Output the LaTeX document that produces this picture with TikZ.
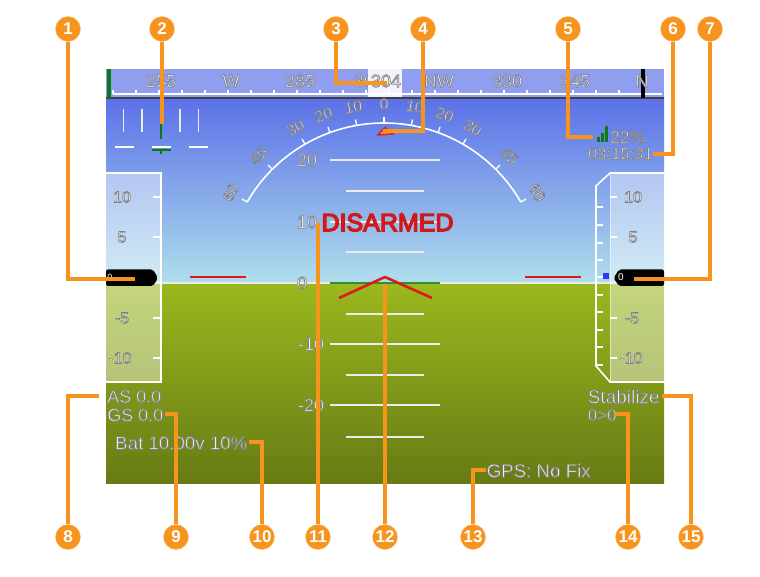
\documentclass[tikz,border=0pt]{standalone}
\usepackage{fontspec}
\setmainfont{Liberation Sans}
\definecolor{callout}{HTML}{F7941E}
\definecolor{skytop}{HTML}{5A70E8}
\definecolor{skybot}{HTML}{B0DEEC}
\definecolor{gndtop}{HTML}{9AB81E}
\definecolor{gndbot}{HTML}{677B14}
\definecolor{hudred}{HTML}{E01A18}
\definecolor{hudgreen}{HTML}{0B7A12}
\newcommand{\hudo}[1]{\special{pdf:code 2 Tr 0.7 w 0.5 0.5 0.5 RG}#1\special{pdf:code 0 Tr}}
\newcommand{\hudr}[1]{\special{pdf:code 2 Tr 1.3 w 0.8 0.1 0.1 RG}#1\special{pdf:code 0 Tr}}
\tikzset{
  x=1pt,y=-1pt,
  hudlab/.style={inner sep=0pt,text=white,font=\fontsize{#1}{#1}\selectfont},
  hudlab/.default=17,
  hudline/.style={draw=white,line width=1.6pt},
  minor/.style={draw=white!92!black,line width=1.6pt},
  badge/.style={circle,fill=callout,draw=callout!60!white,line width=0.4pt,minimum size=25pt,inner sep=0pt,text=white,font=\fontsize{17}{17}\selectfont\bfseries},
  leader/.style={draw=callout,line width=3.6pt,line join=miter},
}
\begin{document}
\begin{tikzpicture}
\useasboundingbox (0,0) rectangle (760,577);
\fill[white] (0,0) rectangle (760,577);
% sky and ground
\shade[top color=skytop,bottom color=skybot] (106,97) rectangle (664,283);
\shade[top color=gndtop,bottom color=gndbot] (106,283) rectangle (664,483);
% compass strip
\fill[color=skytop!68!white] (106,69) rectangle (664,97);
\draw[line width=1.6pt,draw=black!75] (106,98) -- (664,98);
\foreach \i in {0,...,23} \draw[white,line width=1.1pt] ({113+23*\i},90) -- ({113+23*\i},94);
\draw[white,line width=1.4pt] (113,94) -- (662,94);
\fill[hudgreen] (107,69) rectangle (111,98);
\fill[black] (641,69) rectangle (645,98);
\foreach \x/\t/\n in {161/255/a,231/W/b,300/285/c,369/300/d,439/NW/e,507/330/f,575/345/g,642/N/h}
  \node[hudlab=18] (comp\n) at (\x,81) {\hudo{\t}};
\fill[white,opacity=.88] (368,69) rectangle (402,97);
\node[hudlab=18] (compval) at (386,81) {\hudo{304}};
% bank scale
\foreach \x in {123.5,142,180,198.5} \draw[minor] (\x,109) -- (\x,132);
\foreach \x in {115,152,189} \draw[white,line width=2pt] (\x,147) -- (\x+19,147);
\draw[white,line width=2.6pt] (161,109) -- (161,139);
\draw[hudgreen,line width=1.3pt] (161,109) -- (161,139);
\draw[hudgreen,line width=2pt] (152,150) -- (171,150);
\draw[hudgreen,line width=2pt] (161,150) -- (161,154.5);
% roll arc
\draw[white,line width=1.6pt] plot[domain=-60:60,samples=81] ({384+158*sin(\x)},{281-158*cos(\x)});
\foreach \a in {-60,-45,-30,-20,-10,0,10,20,30,45,60}
  \draw[white,line width=1.3pt] ({384+158*sin(\a)},{281-158*cos(\a)}) -- ({384+164*sin(\a)},{281-164*cos(\a)});
\foreach \a/\t/\n in {-60/60/a,-45/45/b,-30/30/c,-20/20/d,-10/10/e,0/0/f,10/10/g,20/20/h,30/30/i,45/45/j,60/60/k}
  \node[hudlab=16,rotate=-\a] (roll\n) at ({384+177*sin(\a)},{281-177*cos(\a)}) {\hudo{\t}};
\draw[hudred,line width=1.3pt,fill=callout] (378,135) -- (385,127.5) -- (393,134) -- cycle;
% horizon
\draw[white!92!black,line width=1.5pt] (106,283) -- (664,283);
% pitch ladder
\foreach \y in {160,222,344,405} \draw[minor] (330,\y) -- (440,\y);
\foreach \y in {191,252,314,375,437} \draw[minor] (346,\y) -- (424,\y);
\draw[hudgreen!85!white,line width=1.5pt] (330,283) -- (440,283);
\foreach \x/\y/\t/\n in {307/160/20/a,307/222/10/b,302/283/0/c,311/344/-10/d,311/405/-20/e}
  \node[hudlab=18] (pitch\n) at (\x,\y) {\hudo{\t}};
% speed tape
\fill[white,opacity=.42] (106,173) rectangle (161,382);
\draw[hudline] (106,173) -- (161,173) -- (161,382) -- (106,382);
\foreach \y in {197,237,318,358} \draw[hudline] (153,\y) -- (161,\y);
\foreach \x/\y/\t/\n in {122/197/10/a,122/237/5/b,122/318/-5/c,120/358/-10/d}
  \node[hudlab=16] (spd\n) at (\x,\y) {\hudo{\t}};
\fill[black,rounded corners=2pt] (106,269.5) -- (153,269.5) -- (158,278) -- (153,286) -- (106,286) -- cycle;
\node[hudlab=9] (spdval) at (110,277.5) {0};
% altitude tape
\fill[white,opacity=.42] (610,173) rectangle (664,382);
\draw[hudline] (664,173) -- (610,173) -- (596,186) -- (596,366) -- (610,382) -- (664,382);
\draw[white,opacity=.5,line width=.6pt] (610,173) -- (610,382);
\draw[white,opacity=.7,line width=.6pt] (664,173) -- (664,382);
\foreach \y in {197,237,318,358} \draw[hudline] (610,\y) -- (617,\y);
\foreach \y in {207,225,243,260,277,295,312,330,347,365} \draw[hudline] (596,\y) -- (603,\y);
\fill[blue!80!white] (603,273) rectangle (609,279);
\foreach \x/\y/\t/\n in {633/197/10/a,633/237/5/b,632/318/-5/c,631/358/-10/d}
  \node[hudlab=16] (alt\n) at (\x,\y) {\hudo{\t}};
\fill[black,rounded corners=2pt] (664,269.5) -- (619,269.5) -- (613.5,278) -- (619,286) -- (664,286) -- cycle;
\node[hudlab=10] (altval) at (621,277.5) {0};
% flight director
\draw[hudred,line width=2.4pt] (190,277) -- (246,277);
\draw[hudred,line width=2.4pt] (525,277) -- (581,277);
\draw[hudred,line width=2.6pt,line join=round] (339,298) -- (385,277) -- (432,298);
\node[inner sep=0pt,text=hudred,font=\fontsize{25}{25}\selectfont] (disarmed) at (387.5,222.5) {\hudr{DISARMED}};
% signal
\fill[hudgreen] (597,137) rectangle (600,142);
\fill[hudgreen] (601,133) rectangle (604,142);
\fill[hudgreen] (605,126.5) rectangle (608,142);
% text readouts
\node[hudlab=17.5,anchor=west] (batt) at (610,137) {\hudo{22\%}};
\node[hudlab=16.5,anchor=west] (clock) at (588,153.5) {\hudo{03:15:31}};
\node[hudlab=18,anchor=west] (as) at (107,396.5) {\hudo{AS 0.0}};
\node[hudlab=18,anchor=west] (gs) at (107,415) {\hudo{GS 0.0}};
\node[hudlab=18.7,anchor=west] (bat) at (115,443) {\hudo{Bat 10.00v 10\%}};
\node[hudlab=18.7,anchor=west] (gps) at (486.5,470.5) {\hudo{GPS: No Fix}};
\node[hudlab=19,anchor=west] (mode) at (587.5,396.5) {\hudo{Stabilize}};
\node[hudlab=17,anchor=west] (wp) at (587.5,415) {\hudo{0>0}};
% callouts
\coordinate (e1) at (135,279);
\coordinate (e2) at (162,124);
\coordinate (e3) at (387,83);
\coordinate (e4) at (383,131);
\coordinate (e5) at (593,137);
\coordinate (e6) at (653,154);
\coordinate (e7) at (634,279);
\coordinate (e8) at (99,396);
\coordinate (e9) at (165,414);
\coordinate (e10) at (249,442);
\coordinate (e11) at (318,223);
\coordinate (e12) at (385,284);
\coordinate (e13) at (486,470);
\coordinate (e14) at (615,414);
\coordinate (e15) at (662,396);
\foreach \n/\x/\y in {1/68/29,2/162/29,3/336/29,4/423/29,5/568/29,6/673/29,7/710/29,8/68/537,9/176/537,10/262/537,11/318/537,12/385/537,13/473/537,14/628/537,15/691/537}
  \node[badge] (c\n) at (\x,\y) {\n};
\foreach \n in {1,3,4,5,6,7,8,9,10,13,14,15} \draw[leader] (c\n) |- (e\n);
\foreach \n in {2,11,12} \draw[leader] (c\n) -- (c\n |- e\n);
\end{tikzpicture}
\end{document}
